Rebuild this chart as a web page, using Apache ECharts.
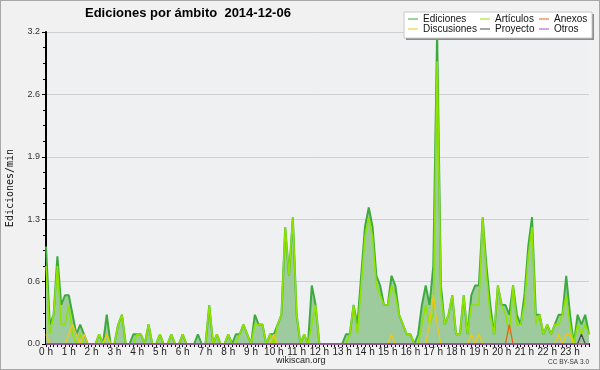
<!DOCTYPE html>
<html>
<head>
<meta charset="utf-8">
<script src="https://cdn.jsdelivr.net/npm/echarts@6/dist/echarts.min.js"></script>
<style>
html,body{margin:0;padding:0;background:#f1f1f1;}
#chart{width:600px;height:370px;}
</style>
</head>
<body>
<div id="chart"></div>
<script>
const hourLabels = ['0 h','1 h','2 h','3 h','4 h','5 h','6 h','7 h','8 h','9 h','10 h','11 h','12 h','13 h','14 h','15 h','16 h','17 h','18 h','19 h','20 h','21 h','22 h','23 h'];
const yTickLabels = ['0.0','0.6','1.3','1.9','2.6','3.2'];
const seriesNames = ['Ediciones','Artículos','Anexos','Discusiones','Proyecto','Otros'];

// 10-minute bins, 144 per day
const ediciones = [
1.0,0.2,0.3,0.9,0.4,0.5,0.5,0.3,0.1,0.2,0.1,0,
0,0,0.1,0,0.3,0,0,0.2,0.3,0,0,0.1,
0.1,0.1,0,0.2,0,0,0.1,0,0,0.1,0,0,
0.1,0,0,0,0.1,0,0,0.4,0,0.1,0,0,
0.1,0,0.1,0.1,0.2,0.1,0,0.3,0.2,0.2,0,0.1,
0.1,0.2,0.3,1.2,0.7,1.3,0.3,0,0.1,0,0.6,0.4,
0,0,0,0,0,0,0,0.1,0.1,0.4,0.2,0.7,
1.2,1.4,1.2,0.7,0.6,0.4,0.4,0.7,0.6,0.3,0.2,0.1,
0.1,0,0.1,0.4,0.6,0.4,0.8,3.2,0.6,0.2,0.3,0.5,
0.1,0.1,0.5,0.1,0.5,0.6,0.6,1.3,0.8,0.4,0.1,0.6,
0.4,0.4,0.3,0.6,0.3,0.2,0.5,1.0,1.3,0.3,0.3,0.1,
0.2,0.1,0.2,0.3,0.3,0.7,0.3,0,0.3,0.2,0.3,0.1
];
const articulos = [
0.8,0.1,0.3,0.8,0.2,0.2,0.4,0.1,0,0.1,0,0,
0,0,0.1,0,0.1,0,0,0.2,0.3,0,0,0,
0.1,0.1,0,0.2,0,0,0.1,0,0,0.1,0,0,
0.1,0,0,0,0,0,0,0.4,0,0.1,0,0,
0.1,0,0,0.1,0.2,0.1,0,0.2,0.2,0.2,0,0.1,
0,0.2,0.3,1.2,0.7,1.3,0.3,0,0.1,0,0.2,0.4,
0,0,0,0,0,0,0,0,0.1,0.4,0.1,0.6,
1.1,1.3,1.1,0.6,0.5,0.4,0.4,0.6,0.5,0.3,0.2,0.1,
0.1,0,0,0.2,0.4,0.2,0.3,2.9,0.5,0.2,0.3,0.5,
0.1,0.1,0.5,0.1,0.4,0.4,0.4,1.3,0.7,0.3,0.1,0.6,
0.4,0.3,0.1,0.6,0.2,0.2,0.4,0.9,1.2,0.2,0.3,0.1,
0.2,0.1,0.2,0.2,0.3,0.5,0.2,0,0.2,0.1,0.2,0.1
];
const discusiones = [
0.1,0,0,0,0,0,0.1,0.2,0.1,0,0.1,0,
0,0,0,0,0.1,0,0,0,0,0,0,0,
0,0,0,0,0,0,0,0,0,0,0,0,
0,0,0,0,0,0,0,0,0,0,0,0,
0,0,0,0,0,0,0,0,0,0,0,0,
0.1,0,0,0,0,0,0,0,0,0,0,0,
0,0,0,0,0,0,0,0,0,0,0,0,
0,0,0,0,0,0,0,0.1,0,0,0,0,
0,0,0,0,0,0.2,0.5,0.2,0,0,0,0,
0,0,0,0,0.1,0,0.1,0,0,0,0,0,
0,0,0,0,0,0,0,0,0,0,0,0,
0,0,0,0.1,0,0.1,0.1,0,0,0,0,0
];
const anexos = [
0,0,0,0,0,0,0,0,0,0,0,0,
0,0,0,0,0,0,0,0,0,0,0,0,
0,0,0,0,0,0,0,0,0,0,0,0,
0,0,0,0,0,0,0,0,0,0,0,0,
0,0,0,0,0,0,0,0,0,0,0,0,
0,0,0,0,0,0,0,0,0,0,0,0,
0,0,0,0,0,0,0,0,0,0,0,0,
0,0,0,0,0,0,0,0,0,0,0,0,
0,0,0,0,0,0,0,0,0,0,0,0,
0,0,0,0,0,0,0,0,0,0,0,0,
0,0,0.2,0,0,0,0,0,0,0,0,0,
0,0,0,0,0,0,0,0,0,0,0,0
];
const proyecto = [
0,0,0,0,0,0,0,0,0,0,0,0,
0,0,0,0,0,0,0,0,0,0,0,0,
0,0,0,0,0,0,0,0,0,0,0,0,
0,0,0,0,0,0,0,0,0,0,0,0,
0,0,0,0,0,0,0,0,0,0,0,0,
0,0,0,0,0,0,0,0,0,0,0,0,
0,0,0,0,0,0,0,0,0,0,0,0,
0,0,0,0,0,0,0,0,0,0,0,0,
0,0,0,0,0,0,0,0,0,0,0,0,
0,0,0,0,0,0,0,0,0,0,0,0,
0,0,0,0,0,0,0,0,0,0,0,0,
0,0,0,0,0,0,0,0,0,0.1,0,0
];
const otros = [
0,0,0,0,0,0,0,0,0,0,0,0,
0,0,0,0,0,0,0,0,0,0,0,0,
0,0,0,0,0,0,0,0,0,0,0,0,
0,0,0,0,0,0,0,0,0,0,0,0,
0,0,0,0,0,0,0,0,0,0,0,0,
0,0,0,0,0,0,0,0,0,0,0,0,
0,0,0,0,0,0,0,0,0,0,0,0,
0,0,0,0,0,0,0,0,0,0,0,0,
0,0,0,0,0,0,0,0,0,0,0,0,
0,0,0,0,0,0,0,0,0,0,0,0,
0,0,0,0,0,0,0,0,0,0,0,0,
0,0,0,0,0,0,0,0,0,0,0,0
];

const categories = [];
for (let h = 0; h < 24; h++) {
  for (let m = 0; m < 60; m += 10) {
    categories.push((h < 10 ? '0' : '') + h + ':' + (m < 10 ? '0' : '') + m);
  }
}

const FONT = 'Liberation Sans';
const colors = {
  'Ediciones': '#3daa3d',
  'Artículos': '#8ee400',
  'Anexos': '#e8601c',
  'Discusiones': '#ecc81a',
  'Proyecto': '#4a4a4a',
  'Otros': '#9a4fe0'
};

function lineSeries(name, data, width, z, extra) {
  return Object.assign({
    name: name,
    type: 'line',
    data: data,
    showSymbol: false,
    symbol: 'none',
    smooth: false,
    z: z,
    itemStyle: { color: colors[name] },
    lineStyle: { color: colors[name], width: width },
    emphasis: { disabled: true }
  }, extra || {});
}

const legendBase = {
  orient: 'vertical',
  icon: 'rect',
  itemWidth: 10,
  itemHeight: 1,
  itemGap: 0,
  padding: 0,
  selectedMode: false,
  top: 14,
  z: 10,
  textStyle: { fontFamily: FONT, fontSize: 10, color: '#111', lineHeight: 10, padding: [0, 0, 0, 0] }
};

const chart = echarts.init(document.getElementById('chart'));
chart.setOption({
  animation: false,
  backgroundColor: '#f1f1f1',
  title: {
    text: 'Ediciones por ámbito  2014-12-06',
    left: 85,
    top: 7,
    padding: 0,
    textStyle: { fontFamily: FONT, fontSize: 13, fontWeight: 'bold', color: '#000' }
  },
  legend: [
    Object.assign({}, legendBase, { left: 408, data: ['Ediciones', 'Discusiones'] }),
    Object.assign({}, legendBase, { left: 480, data: ['Artículos', 'Proyecto'] }),
    Object.assign({}, legendBase, { left: 539, data: ['Anexos', 'Otros'] })
  ],
  grid: {
    left: 46, right: 11, top: 32, bottom: 26,
    outerBoundsMode: 'none',
    containLabel: false,
    show: true, backgroundColor: '#eef0f2', borderWidth: 0
  },
  xAxis: {
    type: 'category',
    data: categories,
    boundaryGap: false,
    axisLine: { lineStyle: { color: '#000', width: 2 } },
    axisTick: { show: true, interval: 0, length: 3, lineStyle: { color: '#000', width: 1 } },
    axisLabel: {
      interval: 5,
      margin: 3,
      fontFamily: FONT, fontSize: 10, color: '#222',
      formatter: function (v, idx) { return hourLabels[Math.floor(idx / 6)]; }
    },
    splitLine: { show: false }
  },
  yAxis: {
    type: 'value',
    min: 0, max: 3.2, interval: 0.64,
    name: 'Ediciones/min',
    nameLocation: 'middle',
    nameGap: 31,
    nameTextStyle: { fontFamily: 'DejaVu Sans Mono', fontSize: 10, color: '#111' },
    axisLine: { show: true, lineStyle: { color: '#000', width: 2 } },
    axisTick: { show: true, length: 4, lineStyle: { color: '#000' } },
    minorTick: { show: true, splitNumber: 4, length: 3, lineStyle: { color: '#000' } },
    axisLabel: {
      margin: 6, fontFamily: FONT, fontSize: 9, color: '#333',
      formatter: function (v) { return yTickLabels[Math.round(v / 0.64)]; }
    },
    splitLine: { show: true, lineStyle: { color: '#cfcfcf', width: 1 } }
  },
  series: [
    lineSeries('Ediciones', ediciones, 2, 2, { areaStyle: { color: '#9ecb9e', opacity: 1 } }),
    lineSeries('Artículos', articulos, 1.6, 3),
    lineSeries('Anexos', anexos, 1.3, 4),
    lineSeries('Discusiones', discusiones, 1.3, 4),
    lineSeries('Proyecto', proyecto, 1.3, 4),
    lineSeries('Otros', otros, 1.3, 4)
  ],
  graphic: [
    { type: 'rect', z: 8, shape: { x: 406, y: 14, width: 188, height: 26 }, style: { fill: '#8c8c8c' } },
    { type: 'rect', z: 9, shape: { x: 404, y: 12, width: 188, height: 26 }, style: { fill: '#ffffff', stroke: '#c8c8c8', lineWidth: 1 } },
    { type: 'text', z: 9, left: 276, top: 356, style: { text: 'wikiscan.org', font: '9px "Liberation Sans"', fill: '#222' } },
    { type: 'text', z: 9, right: 11, top: 359, style: { text: 'CC BY-SA 3.0', font: '6.5px "Liberation Sans"', fill: '#333' } },
    { type: 'rect', z: 20, silent: true, shape: { x: 0, y: 0, width: 600, height: 370 }, style: { fill: 'none', stroke: '#a8a8a8', lineWidth: 2 } }
  ]
});
</script>
</body>
</html>
